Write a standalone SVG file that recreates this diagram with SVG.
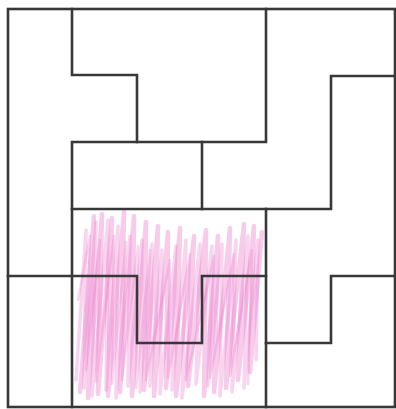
<svg xmlns="http://www.w3.org/2000/svg" width="396" height="409" viewBox="0 0 396 409">
<style>
.ln{fill:none;stroke:#383838;stroke-width:2.6;stroke-linejoin:miter;stroke-linecap:square}
.pk{fill:none;stroke:#ea78c9;stroke-linejoin:round;stroke-linecap:round}
</style>
<rect width="396" height="409" fill="#ffffff"/>
<g id="scribble">
<path class="pk" stroke-width="4.5" opacity="0.38" d="M80,392 L94,216 L88,398 L102,214 L98,394 L112,218 L108,396 L124,212 L120,392 L134,216 L132,396 L146,222 L144,390 L158,226 L154,396 L168,232 L166,388 L180,228 L176,396 L194,236 L188,386 L206,230 L204,396 L218,236 L214,392 L230,228 L226,388 L244,224 L238,380 L254,226 L250,372 L262,232"/>
<path class="pk" stroke-width="3.5" opacity="0.32" d="M76,380 L86,230 L84,388 L96,222 L92,396 L108,220 L106,390 L118,226 L116,398 L130,236 L128,386 L142,240 L140,392 L152,244 L150,386 L162,250 L160,394 L176,246 L172,390 L186,240 L182,398 L200,244 L196,384 L212,246 L208,386 L222,244 L220,396 L236,240 L232,392 L248,236 L244,388 L258,240 L256,360"/>
<path class="pk" stroke-width="2.5" opacity="0.3" d="M78,300 L90,236 L86,370 L100,240 L96,382 L114,236 L112,384 L126,242 L122,380 L138,246 L136,388 L150,250 L146,380 L170,260 L168,378 L190,254 L186,380 L214,256 L210,378 L234,254 L230,376 L252,250 L248,384"/>
</g>
<g id="grid">
<rect class="ln" x="8" y="9" width="387" height="398"/>
<path class="ln" d="M72,9 V75 H137 V142"/>
<path class="ln" d="M266,9 V142 H72 V407"/>
<path class="ln" d="M202,142 V209"/>
<path class="ln" d="M395,76 H331 V209 H72"/>
<path class="ln" d="M266,209 V407"/>
<path class="ln" d="M8,276 H137 V343 H202 V276 H266"/>
<path class="ln" d="M266,343 H331 V276 H395"/>
</g>
</svg>
